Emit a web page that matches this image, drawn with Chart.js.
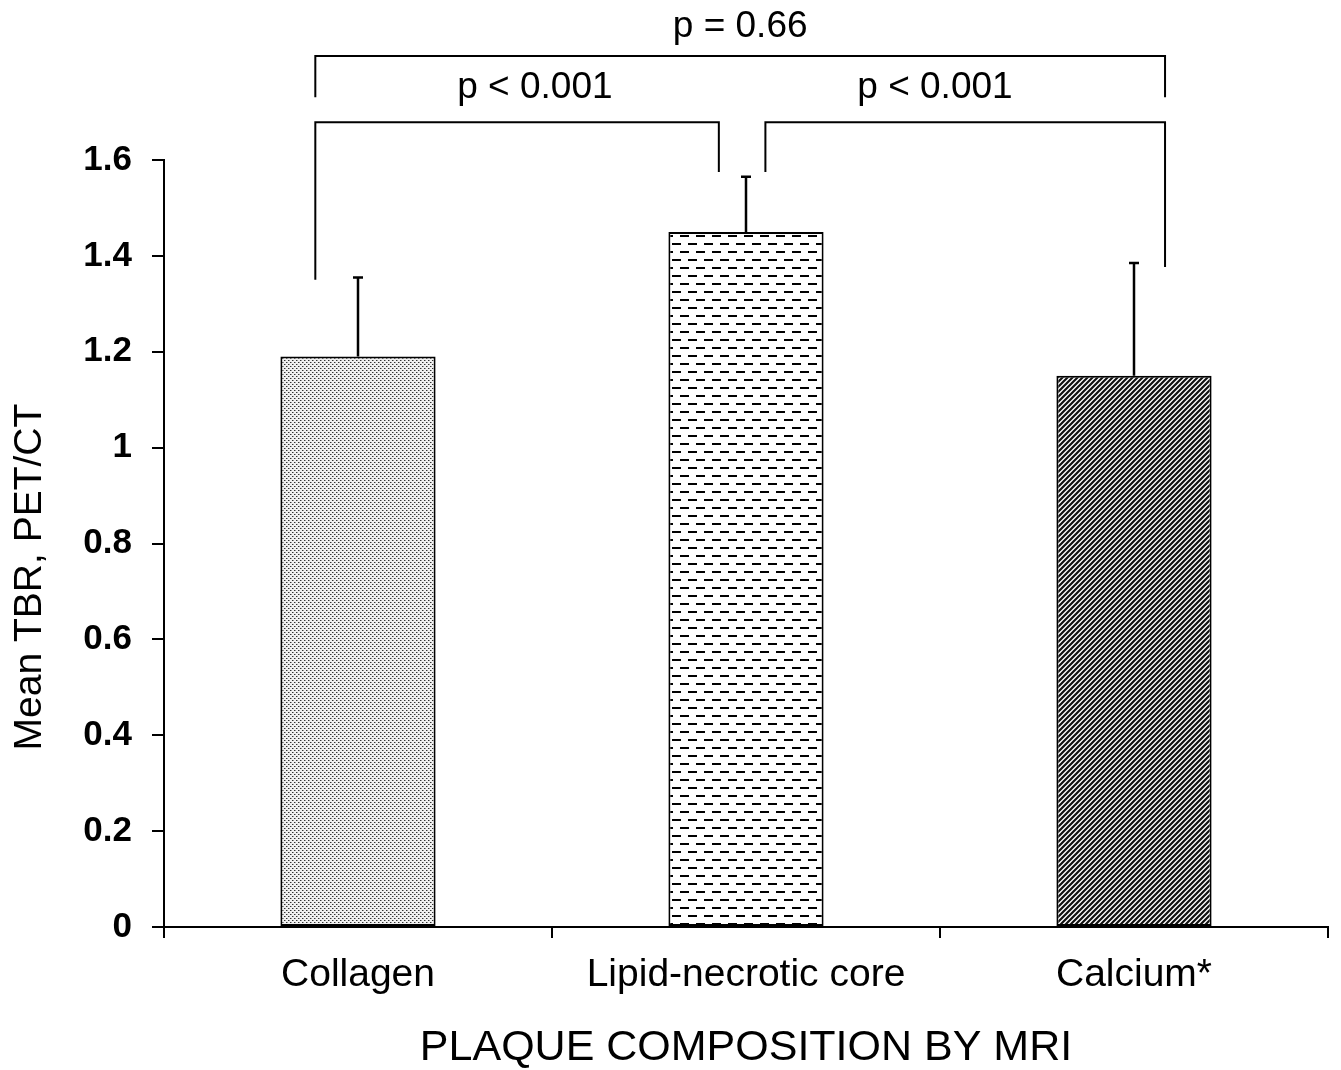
<!DOCTYPE html>
<html>
<head>
<meta charset="utf-8">
<title>Mean TBR by plaque composition</title>
<script src="https://cdn.jsdelivr.net/npm/chart.js@4.4.0/dist/chart.umd.min.js"></script>
<style>
    body { margin: 0; background: #fff; }
    #chart-container { width: 1341px; height: 1070px; }
</style>
</head>
<body>
<div id="chart-container"><canvas id="myChart" width="1341" height="1070"></canvas></div>
<script>
const categories = ["Collagen", "Lipid-necrotic core", "Calcium*"];
const meanTbr = [1.19, 1.45, 1.15];
const errorUp = [0.165, 0.115, 0.235];
const yTicks = [0, 0.2, 0.4, 0.6, 0.8, 1, 1.2, 1.4, 1.6];

// significance brackets, x in category units, y in TBR units
const bracketFrom = [-0.11, -0.11, 1.05];
const bracketTo = [2.08, 0.93, 2.08];
const bracketLevel = [1.817, 1.679, 1.679];
const legFromEnd = [1.731, 1.35, 1.575];
const legToEnd = [1.731, 1.575, 1.377];
const bracketText = ["p = 0.66", "p < 0.001", "p < 0.001"];
const textX = [0.985, 0.456, 1.487];
const textLevel = [1.877, 1.75, 1.75];

const yTitle = "Mean TBR, PET/CT";
const xTitle = "PLAQUE COMPOSITION BY MRI";

const canvas = document.getElementById("myChart");
const mainCtx = canvas.getContext("2d");

const makePattern = (w, h, bg, draw) => {
    const c = document.createElement("canvas");
    c.width = w;
    c.height = h;
    const ctx = c.getContext("2d");
    ctx.fillStyle = bg;
    ctx.fillRect(0, 0, w, h);
    draw(ctx);
    return mainCtx.createPattern(c, "repeat");
};

const dots = makePattern(4, 4, "#f0f0f0", (ctx) => {
    ctx.fillStyle = "#333";
    ctx.fillRect(0, 0, 1, 1);
    ctx.fillRect(2, 2, 1, 1);
    ctx.fillStyle = "#999";
    ctx.fillRect(1, 0, 1, 1);
    ctx.fillRect(3, 2, 1, 1);
});

const dashes = makePattern(16, 16, "#fff", (ctx) => {
    ctx.fillStyle = "#000";
    ctx.fillRect(0, 3, 9, 2);
    ctx.fillRect(8, 11, 8, 2);
    ctx.fillRect(0, 11, 1, 2);
});

const hatch = makePattern(5, 5, "#fff", (ctx) => {
    ctx.strokeStyle = "#111";
    ctx.lineWidth = 2.2;
    ctx.beginPath();
    ctx.moveTo(-1, 6);
    ctx.lineTo(6, -1);
    ctx.moveTo(-1, 1);
    ctx.lineTo(1, -1);
    ctx.moveTo(4, 6);
    ctx.lineTo(6, 4);
    ctx.stroke();
});

const errorBars = {
    id: "errorBars",
    afterDatasetsDraw(chart) {
        const ctx = chart.ctx;
        const y = chart.scales.y;
        const meta = chart.getDatasetMeta(0);
        ctx.save();
        ctx.strokeStyle = "#000";
        ctx.lineWidth = 2.5;
        meta.data.forEach((bar, i) => {
            const top = y.getPixelForValue(meanTbr[i] + errorUp[i]);
            ctx.beginPath();
            ctx.moveTo(bar.x, bar.y);
            ctx.lineTo(bar.x, top);
            ctx.moveTo(bar.x - 5, top);
            ctx.lineTo(bar.x + 5, top);
            ctx.stroke();
        });
        ctx.restore();
    },
};

const brackets = {
    id: "brackets",
    afterDraw(chart) {
        const ctx = chart.ctx;
        const x = chart.scales.x;
        const y = chart.scales.y;
        ctx.save();
        ctx.strokeStyle = "#000";
        ctx.lineWidth = 2;
        bracketFrom.forEach((from, i) => {
            const x1 = x.getPixelForValue(from);
            const x2 = x.getPixelForValue(bracketTo[i]);
            const yl = y.getPixelForValue(bracketLevel[i]);
            ctx.beginPath();
            ctx.moveTo(x1, y.getPixelForValue(legFromEnd[i]));
            ctx.lineTo(x1, yl);
            ctx.lineTo(x2, yl);
            ctx.lineTo(x2, y.getPixelForValue(legToEnd[i]));
            ctx.stroke();
        });
        ctx.fillStyle = "#000";
        ctx.font = "37px 'Liberation Sans', Arial, sans-serif";
        ctx.textAlign = "center";
        ctx.textBaseline = "middle";
        bracketText.forEach((t, i) => {
            ctx.fillText(t, x.getPixelForValue(textX[i]), y.getPixelForValue(textLevel[i]));
        });

        // y axis title, drawn here so it can sit lower than the axis centre
        ctx.translate(y.left + 30, y.getPixelForValue(0.73));
        ctx.rotate(-Math.PI / 2);
        ctx.font = "39px 'Liberation Sans', Arial, sans-serif";
        ctx.fillText(yTitle, 0, 0);
        ctx.restore();
    },
};

const data = {
    labels: categories,
    datasets: [{
        data: meanTbr,
        backgroundColor: [dots, dashes, hatch],
        borderColor: "#000",
        borderWidth: 2,
        borderSkipped: false,
        barPercentage: 0.4,
        categoryPercentage: 1,
    }],
};

const config = {
    type: "bar",
    data: data,
    options: {
        responsive: false,
        animation: false,
        events: [],
        layout: {
            padding: { top: 160, right: 13, bottom: 0, left: 0 },
        },
        plugins: {
            legend: { display: false },
            tooltip: { enabled: false },
        },
        scales: {
            x: {
                offset: true,
                grid: {
                    offset: true,
                    drawOnChartArea: false,
                    drawTicks: true,
                    tickLength: 11,
                    color: "#000",
                    lineWidth: 2,
                },
                border: { display: true, color: "#000", width: 2 },
                ticks: {
                    color: "#000",
                    padding: 14,
                    maxRotation: 0,
                    font: { family: "'Liberation Sans', Arial, sans-serif", size: 39 },
                },
                title: {
                    display: true,
                    text: xTitle,
                    color: "#000",
                    padding: 0,
                    font: { family: "'Liberation Sans', Arial, sans-serif", size: 43, lineHeight: 1 },
                },
                afterFit: (scale) => {
                    scale.height = 143;
                },
            },
            y: {
                min: 0,
                max: 1.6,
                afterBuildTicks: (scale) => {
                    scale.ticks = yTicks.map((v) => ({ value: v }));
                },
                grid: {
                    drawOnChartArea: false,
                    drawTicks: true,
                    tickLength: 12,
                    color: "#000",
                    lineWidth: 2,
                },
                border: { display: true, color: "#000", width: 2 },
                ticks: {
                    color: "#000",
                    padding: 20,
                    callback: (value) => String(value),
                    font: { family: "'Liberation Sans', Arial, sans-serif", size: 35, weight: "bold" },
                },
                afterFit: (scale) => {
                    scale.width = 164;
                },
            },
        },
    },
    plugins: [errorBars, brackets],
};

const myChart = new Chart(canvas, config);
</script>
</body>
</html>
